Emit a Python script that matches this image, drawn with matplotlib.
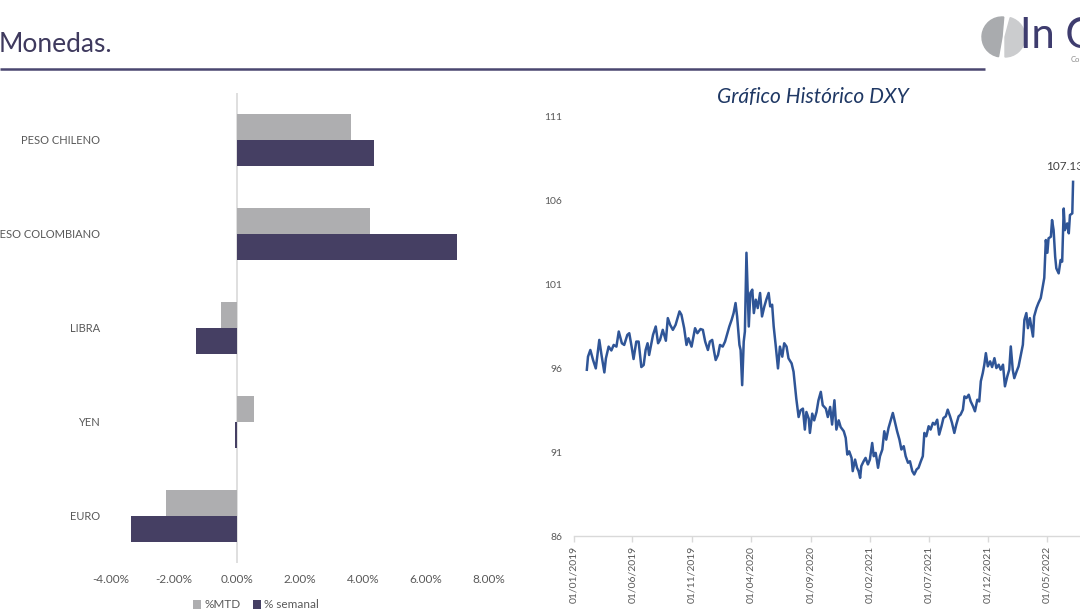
import matplotlib
matplotlib.use("Agg")
import matplotlib.pyplot as plt
from matplotlib.patches import Wedge
import numpy as np
import pandas as pd

plt.rcParams['font.family'] = ['Lato', 'DejaVu Sans']

# ---------------- data ----------------
categories = ["PESO CHILENO", "PESO COLOMBIANO", "LIBRA", "YEN", "EURO"]
mtd = [3.62, 4.22, -0.51, 0.54, -2.25]
semanal = [4.35, 6.98, -1.30, -0.06, -3.37]
series_names = ["%MTD", "% semanal"]
pct_ticks = [-4, -2, 0, 2, 4, 6, 8]

dxy_dates = [
    "2019-02-04", "2019-02-07", "2019-02-13", "2019-02-20", "2019-02-27", "2019-03-08", "2019-03-14",
    "2019-03-21", "2019-03-25", "2019-04-01", "2019-04-08", "2019-04-14", "2019-04-21", "2019-04-27",
    "2019-05-05", "2019-05-11", "2019-05-19", "2019-05-24", "2019-05-30", "2019-06-04", "2019-06-11",
    "2019-06-17", "2019-06-24", "2019-06-30", "2019-07-05", "2019-07-10", "2019-07-14", "2019-07-24",
    "2019-07-31", "2019-08-06", "2019-08-11", "2019-08-18", "2019-08-26", "2019-08-31", "2019-09-06",
    "2019-09-13", "2019-09-20", "2019-09-30", "2019-10-05", "2019-10-12", "2019-10-18", "2019-10-23",
    "2019-10-31", "2019-11-05", "2019-11-09", "2019-11-15", "2019-11-23", "2019-11-29", "2019-12-05",
    "2019-12-12", "2019-12-17", "2019-12-23", "2019-12-28", "2020-01-01", "2020-01-07", "2020-01-12",
    "2020-01-19", "2020-01-25", "2020-01-30", "2020-02-05", "2020-02-11", "2020-02-16", "2020-02-21",
    "2020-02-25", "2020-03-02", "2020-03-05", "2020-03-09", "2020-03-13", "2020-03-16", "2020-03-20",
    "2020-03-26", "2020-03-30", "2020-04-04", "2020-04-08", "2020-04-13", "2020-04-18", "2020-04-24",
    "2020-04-29", "2020-05-05", "2020-05-10", "2020-05-16", "2020-05-20", "2020-05-25", "2020-05-29",
    "2020-06-03", "2020-06-09", "2020-06-14", "2020-06-20", "2020-06-25", "2020-07-01", "2020-07-06",
    "2020-07-14", "2020-07-19", "2020-07-23", "2020-07-26", "2020-08-01", "2020-08-06", "2020-08-12",
    "2020-08-17", "2020-08-21", "2020-08-27", "2020-08-30", "2020-09-05", "2020-09-10", "2020-09-16",
    "2020-09-21", "2020-09-27", "2020-10-02", "2020-10-10", "2020-10-15", "2020-10-21", "2020-10-26",
    "2020-11-01", "2020-11-06", "2020-11-12", "2020-11-17", "2020-11-25", "2020-11-30", "2020-12-04",
    "2020-12-09", "2020-12-15", "2020-12-18", "2020-12-24", "2020-12-29", "2021-01-02", "2021-01-06",
    "2021-01-09", "2021-01-15", "2021-01-20", "2021-01-26", "2021-01-31", "2021-02-06", "2021-02-10",
    "2021-02-15", "2021-02-21", "2021-02-26", "2021-03-04", "2021-03-09", "2021-03-14", "2021-03-20",
    "2021-03-26", "2021-03-31", "2021-04-06", "2021-04-11", "2021-04-17", "2021-04-22", "2021-04-28",
    "2021-05-03", "2021-05-09", "2021-05-14", "2021-05-20", "2021-05-25", "2021-05-31", "2021-06-05",
    "2021-06-11", "2021-06-16", "2021-06-20", "2021-06-25", "2021-07-01", "2021-07-06", "2021-07-12",
    "2021-07-17", "2021-07-23", "2021-07-28", "2021-08-03", "2021-08-08", "2021-08-14", "2021-08-19",
    "2021-08-25", "2021-08-30", "2021-09-05", "2021-09-10", "2021-09-16", "2021-09-21", "2021-09-27",
    "2021-10-01", "2021-10-06", "2021-10-12", "2021-10-17", "2021-10-23", "2021-10-28", "2021-11-03",
    "2021-11-08", "2021-11-12", "2021-11-17", "2021-11-21", "2021-11-25", "2021-11-30", "2021-12-06",
    "2021-12-11", "2021-12-17", "2021-12-22", "2021-12-28", "2022-01-02", "2022-01-08", "2022-01-13",
    "2022-01-19", "2022-01-24", "2022-01-28", "2022-02-02", "2022-02-06", "2022-02-12", "2022-02-17",
    "2022-02-23", "2022-02-28", "2022-03-04", "2022-03-09", "2022-03-13", "2022-03-18", "2022-03-26",
    "2022-03-29", "2022-04-04", "2022-04-09", "2022-04-15", "2022-04-21", "2022-04-24", "2022-04-28",
    "2022-05-02", "2022-05-05", "2022-05-11", "2022-05-14", "2022-05-18", "2022-05-22", "2022-05-25",
    "2022-05-31", "2022-06-05", "2022-06-09", "2022-06-13", "2022-06-16", "2022-06-22", "2022-06-26",
    "2022-06-29", "2022-07-05", "2022-07-07",
]
dxy_values = [
    95.92, 96.70, 97.10, 96.50, 96.00, 97.70, 96.75,
    95.76, 96.60, 97.30, 97.07, 97.40, 97.30, 98.20,
    97.50, 97.40, 98.00, 98.10, 97.30, 96.56, 97.60,
    97.60, 96.08, 96.20, 97.10, 97.50, 96.80, 98.00,
    98.50, 97.50, 97.70, 98.30, 97.65, 99.00, 98.60,
    98.30, 98.60, 99.40, 99.20, 98.40, 97.40, 97.80,
    97.30, 97.90, 98.40, 98.10, 98.35, 98.30, 97.60,
    97.10, 97.60, 97.70, 97.00, 96.50, 96.80, 97.40,
    97.30, 97.60, 98.00, 98.50, 98.90, 99.30, 99.90,
    99.10, 97.40, 97.10, 95.00, 97.60, 98.20, 102.90,
    98.50, 100.50, 100.70, 99.30, 100.10, 99.60, 100.50,
    99.10, 99.70, 100.10, 100.50, 99.70, 99.80, 98.50,
    97.40, 96.00, 97.30, 96.70, 97.50, 97.30, 96.60,
    96.30, 95.80, 94.90, 94.20, 93.10, 93.50, 93.60,
    92.35, 93.40, 93.00, 92.15, 93.30, 92.90, 93.40,
    94.10, 94.60, 93.80, 93.60, 93.10, 93.70, 92.65,
    94.10, 92.35, 92.90, 92.50, 92.25, 91.85, 90.86,
    91.05, 90.66, 89.87, 90.56, 90.07, 89.87, 89.47,
    90.17, 90.46, 90.66, 90.27, 90.56, 91.55, 90.76,
    90.96, 90.07, 90.76, 91.16, 92.25, 91.75, 92.45,
    92.94, 93.34, 92.75, 92.25, 91.75, 91.16, 91.36,
    90.76, 90.37, 90.46, 89.87, 89.67, 89.97, 90.07,
    90.46, 90.76, 92.15, 91.95, 92.55, 92.35, 92.75,
    92.65, 92.94, 92.05, 92.55, 93.04, 93.14, 93.54,
    93.14, 92.75, 92.15, 92.65, 93.14, 93.24, 93.54,
    94.33, 94.23, 94.43, 94.03, 93.74, 93.44, 94.13,
    94.03, 95.23, 95.72, 96.22, 96.91, 96.12, 96.42,
    96.08, 96.61, 96.02, 96.22, 95.92, 96.22, 94.93,
    95.52, 95.92, 97.31, 95.92, 95.42, 95.82, 96.12,
    96.81, 97.41, 98.90, 99.30, 98.40, 99.00, 97.90,
    99.10, 99.60, 99.90, 100.20, 101.00, 101.40, 103.66,
    102.90, 103.76, 103.86, 104.85, 104.25, 102.67, 101.97,
    101.67, 102.47, 102.37, 105.54, 104.25, 104.65, 104.06,
    105.15, 105.25, 107.13,
]
date_ticks = ["2019-01-01", "2019-06-01", "2019-11-01", "2020-04-01", "2020-09-01",
              "2021-02-01", "2021-07-01", "2021-12-01", "2022-05-01"]
dxy_yticks = [86, 91, 96, 101, 106, 111]
last_label = "107.13"

# ---------------- figure ----------------
W, H = 1080, 616
fig = plt.figure(figsize=(W / 100, H / 100), dpi=100)

# overlay for header/logo (pixel coordinates)
oax = fig.add_axes([0, 0, 1, 1])
oax.set_xlim(0, W)
oax.set_ylim(H, 0)
oax.axis('off')
oax.text(-1, 44, "Monedas.", fontsize=19, color='#3F3A5E', va='center', ha='left')
oax.plot([0, 985], [69, 69], color='#4A4670', lw=1.8, solid_capstyle='butt')
oax.add_patch(Wedge((1002, 37), 20, 100, 275, color='#A9ABAE'))
oax.add_patch(Wedge((1005, 37), 20, -75, 90, color='#CBCCCE'))
oax.text(1020, 36, "In C", fontsize=30, color='#3E3C6E', va='center', ha='left')
oax.text(1071, 60, "Co", fontsize=5.5, color='#8C8C8C', va='center', ha='left')

# ---------------- bar chart ----------------
ax1 = fig.add_axes([111 / W, 53 / H, 378 / W, 470 / H])
y = np.arange(len(categories))
h = 0.28
ax1.barh(y - h / 2, mtd, height=h, color='#AEAEB0', label=series_names[0], zorder=2)
ax1.barh(y + h / 2, semanal, height=h, color='#453F63', label=series_names[1], zorder=2)
ax1.axvline(0, color='#D9D9D9', lw=1.2, zorder=1)
ax1.set_xlim(-4, 8)
ax1.set_ylim(len(categories) - 0.5, -0.5)
for s in ax1.spines.values():
    s.set_visible(False)
ax1.set_xticks(pct_ticks)
ax1.set_xticklabels([f"{v:.2f}%" for v in pct_ticks])
ax1.set_yticks(y)
ax1.set_yticklabels(categories)
ax1.tick_params(axis='x', length=0, pad=8, labelsize=8.5, colors='#595959')
ax1.tick_params(axis='y', length=0, pad=8, labelsize=8, colors='#595959')
leg = fig.legend(loc='center', bbox_to_anchor=(256 / W, 1 - 605 / H), ncol=2, frameon=False,
                 handlelength=0.7, handleheight=0.7, handletextpad=0.3, columnspacing=1.0,
                 fontsize=8.5, labelcolor='#595959')

# ---------------- line chart ----------------
dates = pd.to_datetime(dxy_dates)
x0 = pd.Timestamp("2019-01-01")
left_px = 573.6
px_per_day = 0.3893
x1 = x0 + pd.Timedelta(days=(W - left_px) / px_per_day)
ax2 = fig.add_axes([left_px / W, (H - 536) / H, (W - left_px) / W, (536 - 117) / H])
ax2.plot(dates, dxy_values, color='#2F5597', lw=1.8, solid_joinstyle='round')
ax2.set_xlim(x0, x1)
ax2.set_ylim(dxy_yticks[0], dxy_yticks[-1])
for k in ('left', 'top', 'right'):
    ax2.spines[k].set_visible(False)
ax2.spines['bottom'].set_color('#D9D9D9')
ax2.spines['bottom'].set_linewidth(1.0)
ax2.set_yticks(dxy_yticks)
ax2.set_yticklabels([str(v) for v in dxy_yticks])
tdates = pd.to_datetime(date_ticks)
ax2.set_xticks(tdates)
ax2.set_xticklabels([d.strftime("%d/%m/%Y") for d in tdates], rotation=90)
ax2.tick_params(axis='y', length=0, pad=8, labelsize=7.5, colors='#595959')
ax2.tick_params(axis='x', length=4, width=1, color='#D9D9D9', pad=3, labelsize=7.5, labelcolor='#595959')
ax2.annotate(last_label, (dates[-1], dxy_values[-1]), xytext=(-6, 7), textcoords='offset points',
             ha='center', va='bottom', fontsize=8.5, color='#404040', annotation_clip=False)
fig.text(813 / W, 1 - 97 / H, "Gráfico Histórico DXY", ha='center', va='center',
         style='italic', fontsize=15, color='#1F3864')

fig.savefig("out.png", dpi=100)
